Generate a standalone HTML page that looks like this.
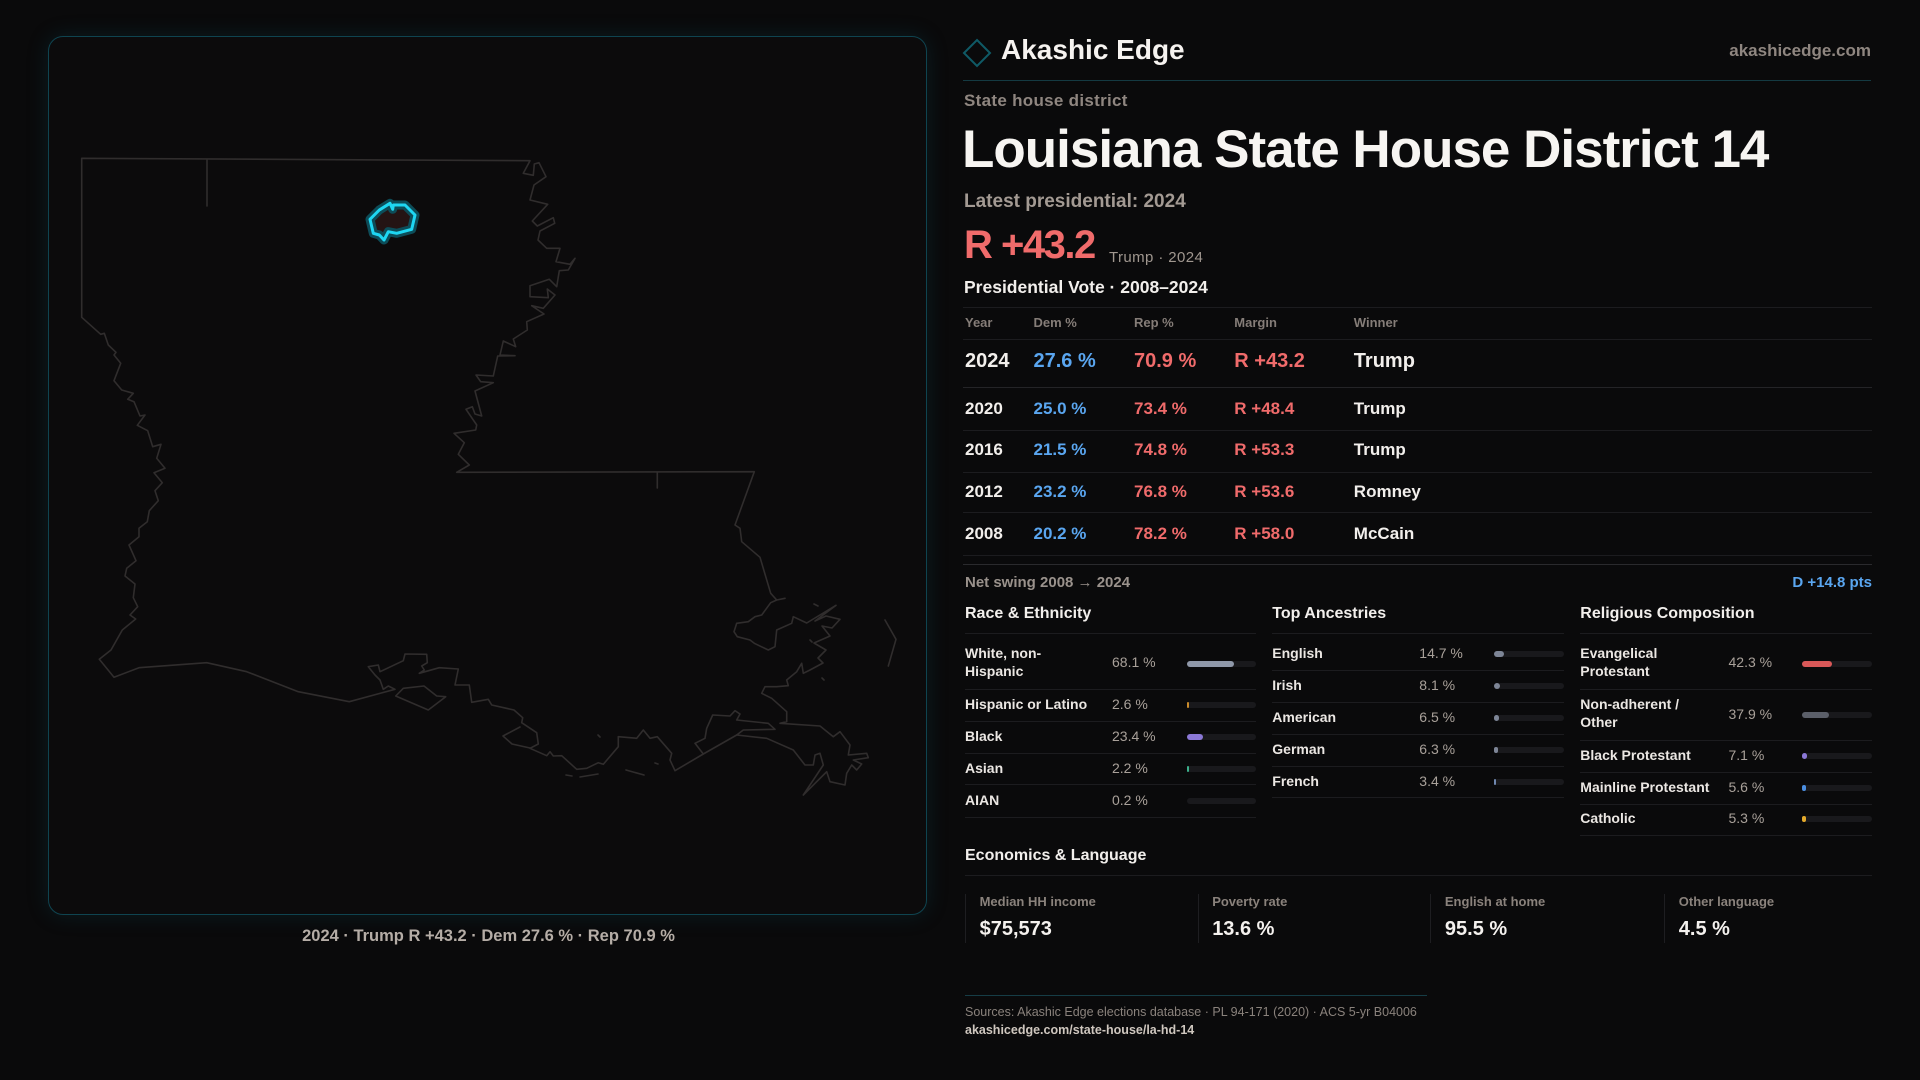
<!DOCTYPE html>
<html><head><meta charset="utf-8">
<style>
*{margin:0;padding:0;box-sizing:border-box}
html,body{width:1920px;height:1080px;background:#0a0a0b;overflow:hidden}
body{position:relative;font-family:"Liberation Sans",Arial,sans-serif;color:#f2efec}
.t{position:absolute;line-height:1;white-space:nowrap}
.b{font-weight:bold}
.g{color:#8f8680}
.bl{color:#5aa6f0}
.rd{color:#f06b6b}
.ln{position:absolute;height:1px;background:#1c1c1f}
.trk{position:absolute;height:6px;border-radius:3px;background:#19191c;width:70px}
.fl{position:absolute;left:0;top:0;height:6px;border-radius:3px}
.panel{position:absolute;left:48px;top:36px;width:879px;height:879px;border:1px solid #0f4450;border-radius:15px;background:#0c0b0c;box-shadow:0 0 22px rgba(14,90,110,0.22)}
.lab{font-size:14px;font-weight:bold;color:#ebe7e3}
.pct{font-size:14px;color:#a9a19a}
.sl{font-size:13px;color:#8a827c;font-weight:bold}
.sv{font-size:20px;font-weight:bold;color:#f4f1ee}
.sb{position:absolute;top:894px;width:1px;height:49px;background:#1e1e21}
</style></head><body>

<div class="panel"></div>

<svg width="1920" height="1080" style="position:absolute;left:0;top:0" xmlns="http://www.w3.org/2000/svg">
<g fill="none" stroke="#302d2d" stroke-width="1.6" stroke-linejoin="round" stroke-linecap="round">
<path d="M349.3,701.7 L298.3,691.7 L246.7,671.7 L206.7,662.7 L139,667.7 L114,677.3 L99.3,659.3 L111,650 L122.3,630 L135.7,619 L130,615 L137.7,606.7 L133.3,597.7 L135,584 L125,576 L126.7,568.3 L136,560.7 L129,545 L139,536.7 L139,528.3 L147.3,521.7 L149.3,510.7 L158.3,500.7 L155,490.7 L162.3,482.7 L154,472.7 L165,468.3 L156.7,458.3 L161,444.3 L152.7,446.7 L147.7,430.7 L137.3,425.3 L145,415 L140,416 L134,401.7 L127.7,399.3 L133.3,393.3 L121.7,390 L114,380.7 L120.7,363.3 L114,355 L116,352.3 L108.3,345 L104.3,333.3 L100.7,334.3 L81.7,317.3 L81.7,158.3 L530,160.7 L523.3,173.3 L533.3,175.3 L534.3,164 L539,162.7 L546,176.7 L534,185 L530,200 L547.7,204.3 L532.3,221 L537.3,226 L553.3,217.7 L554.7,223.3 L540,231 L538,240 L546.7,248.3 L560,248.3 L556,261.7 L570,264.3 L575,258.3 L568.3,270 L559.3,270.7 L556.7,286.7 L549.3,279.3 L530,285.7 L530,296.7 L548.3,297.7 L547.3,289 L555,295 L543.3,308.3 L531.7,305.7 L544,314 L526.7,321.7 L527.3,330 L513.3,339 L515.7,346.7 L503.3,341 L500,355 L515,355.7 L497.7,356 L493.3,376 L476,375 L480.7,381.7 L493.3,382.7 L475,391 L481.7,416 L475,414 L472.3,406.7 L466,409.3 L476.7,425 L475.7,430 L454,433.3 L464.3,442.7 L458.3,454.3 L469.3,465 L456.7,472.3 L754.3,471.7 L735,525 L740,528.3 L741.7,541.7 L760,557.3 L770.7,593.3 L776.7,600 L785,598.3 L776.7,600 L770.7,602.7 L761.7,615 L755,616.7 L748.3,621.7 L736.7,623.3 L734,631.7 L737.3,636.7 L750,640 L754.3,643.3 L768.3,650 L775,646.7 L776.7,630 L791.7,623.3 L793.3,616.7 L806.7,623 L836,605.3 L815,621 L826,616 L840,619.3 L832,628 L822,626 L830,636 L814,643 L826,650 L818,658 L823,663 L810,670 L803.3,673.3 L801.7,663.3 L796.7,671.7 L786.7,680 L788.3,685.7 L776.7,686.7 L765,686.7 L761.7,693.3 L771.7,698.3 L786.7,711.7 L786.7,721.7 L780,723.3 L820,726 L833.3,736.7 L840,731.7 L850,745 L848.3,755 L866.7,753.3 L868.3,757.7 L853.3,760 L861.7,764 L856.7,770 L851.7,765 L846.7,773.3 L845,785 L830,781.7 L826.7,771.7 L803.3,795 L823.3,765 L820,753.3 L815,755 L813.3,765 L805,765 L793.3,750 L766.7,738.3 L736.7,735 L703.3,754 L675,770.7 L670,760 L671.7,753.3 L657.3,736.7 L650,738.3 L643.3,730 L636.7,738.3 L618.3,736.7 L618.3,746.7 L603.3,764.3 L598.3,762.7 L586.7,768.3 L576.7,769.3 L561.7,755.7 L553.3,756 L550,751.7 L546.7,755.7 L530,748.3 L538.3,744 L536.7,732.7 L521.7,722.7 L522.7,717.7 L514,710 L491.7,705 L488.3,699.3 L471.7,702.3 L469.3,685 L455,685 L458.3,669 L439.3,667.7 L419.3,673.3 L424.3,670 L421.7,666 L427.3,662.7 L426.7,654.3 L405,654 L403.3,660.7 L380,671.7 L378.3,665 L368.3,666.7 L375,675 L380,680 L383.3,689.3 L388.3,686 L395,689.3 Z"/>
<path d="M395.7,696 L403.3,688.3 L424,686 L436.7,696 L445.7,696.7 L428.3,710 Z"/>
<path d="M520,727 L503,736 L512,744 L530,748"/>
<path d="M703.3,754 L695,743.3 L705,738.3 L706.7,728.3 L712.7,715 L730,716 L735,710.7 L740,714 L736.7,720 L768.3,723.3 L775,729.3 L743.3,730 L736.7,735"/>
<path d="M885,620 L896,639.3 L888.3,666"/>
<path d="M207,159.3 V206 M657.3,472 V488"/>
<path d="M566,775 L572,776 M580,777 L598,774 M626,770 L644,775 M655,763 L658,764 M598,735 L600,737"/>
<path d="M814,604 L818,606 M810,640 L812,642 M822,678 L824,680"/>
</g>
<path d="M370,219.3 L373.3,233.3 L379.3,235 L384,240 L388.3,231.7 L396.7,233.3 L411.7,229.3 L415,215 L405,205 L393.3,205 L392.7,209.3 L390,203.3 L379.3,210 Z" fill="#241414" stroke="#0d4c58" stroke-width="9" stroke-linejoin="round"/>
<path d="M370,219.3 L373.3,233.3 L379.3,235 L384,240 L388.3,231.7 L396.7,233.3 L411.7,229.3 L415,215 L405,205 L393.3,205 L392.7,209.3 L390,203.3 L379.3,210 Z" fill="none" stroke="#1ed6f2" stroke-width="3" stroke-linejoin="round"/>
<polygon points="977,40 990,53 977,66 964,53" fill="none" stroke="#0f5a66" stroke-width="2"/>
</svg>

<div class="t b" style="left:302px;width:373px;text-align:center;top:928px;font-size:16.5px;color:#b5ada6">2024 · Trump R +43.2 · Dem 27.6 % · Rep 70.9 %</div>

<!-- header -->
<div class="t b" style="left:1001px;top:36.3px;font-size:28px;color:#f6f3f0">Akashic Edge</div>
<div class="t b g" style="right:49px;top:42.3px;font-size:17px">akashicedge.com</div>
<div style="position:absolute;left:963px;top:80px;width:908px;height:1px;background:#143a42"></div>
<div class="t b g" style="left:964px;top:92.3px;font-size:17px;letter-spacing:0.3px">State house district</div>
<div class="t b" style="left:962px;top:123.1px;font-size:53px;letter-spacing:-1px;color:#f7f5f2">Louisiana State House District 14</div>
<div class="t b" style="left:964px;top:191.9px;font-size:19px;color:#a39a93">Latest presidential: 2024</div>
<div class="t b rd" style="left:964px;top:225.4px;font-size:40px;letter-spacing:-1.5px">R +43.2</div>
<div class="t" style="left:1109px;top:250.3px;font-size:15px;color:#a0978f;letter-spacing:0.4px">Trump · 2024</div>
<div class="t b" style="left:964px;top:278.5px;font-size:17.5px;color:#f2efec">Presidential Vote · 2008–2024</div>

<!-- table -->
<div class="ln" style="left:963px;width:909px;top:307px"></div>
<div class="t b" style="left:965px;top:316.3px;font-size:13px;color:#857d78">Year</div>
<div class="t b" style="left:1033.5px;top:316.3px;font-size:13px;color:#857d78">Dem %</div>
<div class="t b" style="left:1134px;top:316.3px;font-size:13px;color:#857d78">Rep %</div>
<div class="t b" style="left:1234.3px;top:316.3px;font-size:13px;color:#857d78">Margin</div>
<div class="t b" style="left:1353.8px;top:316.3px;font-size:13px;color:#857d78">Winner</div>
<div class="ln" style="left:963px;width:909px;top:338.5px"></div>

<div class="t b" style="left:965px;top:351.4px;font-size:20px">2024</div>
<div class="t b bl" style="left:1033.5px;top:351.4px;font-size:20px">27.6 %</div>
<div class="t b rd" style="left:1134px;top:351.4px;font-size:20px">70.9 %</div>
<div class="t b rd" style="left:1234.3px;top:351.4px;font-size:20px">R +43.2</div>
<div class="t b" style="left:1353.8px;top:351.4px;font-size:20px">Trump</div>
<div class="ln" style="left:963px;width:909px;top:387px;background:#242427"></div>

<div class="t b" style="left:965px;top:399.6px;font-size:17px">2020</div>
<div class="t b bl" style="left:1033.5px;top:399.6px;font-size:17px">25.0 %</div>
<div class="t b rd" style="left:1134px;top:399.6px;font-size:17px">73.4 %</div>
<div class="t b rd" style="left:1234.3px;top:399.6px;font-size:17px">R +48.4</div>
<div class="t b" style="left:1353.8px;top:399.6px;font-size:17px">Trump</div>
<div class="ln" style="left:963px;width:909px;top:430px"></div>

<div class="t b" style="left:965px;top:441.3px;font-size:17px">2016</div>
<div class="t b bl" style="left:1033.5px;top:441.3px;font-size:17px">21.5 %</div>
<div class="t b rd" style="left:1134px;top:441.3px;font-size:17px">74.8 %</div>
<div class="t b rd" style="left:1234.3px;top:441.3px;font-size:17px">R +53.3</div>
<div class="t b" style="left:1353.8px;top:441.3px;font-size:17px">Trump</div>
<div class="ln" style="left:963px;width:909px;top:471.5px"></div>

<div class="t b" style="left:965px;top:482.9px;font-size:17px">2012</div>
<div class="t b bl" style="left:1033.5px;top:482.9px;font-size:17px">23.2 %</div>
<div class="t b rd" style="left:1134px;top:482.9px;font-size:17px">76.8 %</div>
<div class="t b rd" style="left:1234.3px;top:482.9px;font-size:17px">R +53.6</div>
<div class="t b" style="left:1353.8px;top:482.9px;font-size:17px">Romney</div>
<div class="ln" style="left:963px;width:909px;top:512.3px"></div>

<div class="t b" style="left:965px;top:524.9px;font-size:17px">2008</div>
<div class="t b bl" style="left:1033.5px;top:524.9px;font-size:17px">20.2 %</div>
<div class="t b rd" style="left:1134px;top:524.9px;font-size:17px">78.2 %</div>
<div class="t b rd" style="left:1234.3px;top:524.9px;font-size:17px">R +58.0</div>
<div class="t b" style="left:1353.8px;top:524.9px;font-size:17px">McCain</div>
<div class="ln" style="left:963px;width:909px;top:555px"></div>
<div class="ln" style="left:963px;width:909px;top:564px;background:#2a2a2d"></div>

<div class="t b" style="left:965px;top:575px;font-size:15px;color:#9a928c">Net swing 2008 → 2024</div>
<div class="t b bl" style="right:48px;top:575px;font-size:15px">D +14.8 pts</div>

<!-- section headings -->
<div class="t b" style="left:965px;top:605.8px;font-size:16px">Race &amp; Ethnicity</div>
<div class="t b" style="left:1272.3px;top:605.8px;font-size:16px">Top Ancestries</div>
<div class="t b" style="left:1580.3px;top:605.8px;font-size:16px">Religious Composition</div>
<div class="ln" style="left:965px;width:291px;top:632.5px"></div>
<div class="ln" style="left:1272px;width:292px;top:632.5px"></div>
<div class="ln" style="left:1580px;width:292px;top:632.5px"></div>

<!-- race -->
<div class="t lab" style="left:965px;top:645.8px">White, non-</div>
<div class="t lab" style="left:965px;top:664.1px">Hispanic</div>
<div class="t pct" style="left:1112px;top:655.1px">68.1 %</div>
<div class="trk" style="left:1186.6px;top:660.7px;width:69px"><div class="fl" style="width:47px;background:#8f98a9"></div></div>
<div class="ln" style="left:965px;width:291px;top:689px"></div>

<div class="t lab" style="left:965px;top:697.4px">Hispanic or Latino</div>
<div class="t pct" style="left:1112px;top:697.4px">2.6 %</div>
<div class="trk" style="left:1186.6px;top:702px;width:69px"><div class="fl" style="width:2px;background:#c98b2b"></div></div>
<div class="ln" style="left:965px;width:291px;top:721px"></div>

<div class="t lab" style="left:965px;top:728.8px">Black</div>
<div class="t pct" style="left:1112px;top:728.8px">23.4 %</div>
<div class="trk" style="left:1186.6px;top:734px;width:69px"><div class="fl" style="width:16px;background:#8b78d6"></div></div>
<div class="ln" style="left:965px;width:291px;top:753px"></div>

<div class="t lab" style="left:965px;top:761.4px">Asian</div>
<div class="t pct" style="left:1112px;top:761.4px">2.2 %</div>
<div class="trk" style="left:1186.6px;top:766px;width:69px"><div class="fl" style="width:2px;background:#3caf8b"></div></div>
<div class="ln" style="left:965px;width:291px;top:784px"></div>

<div class="t lab" style="left:965px;top:793.1px">AIAN</div>
<div class="t pct" style="left:1112px;top:793.1px">0.2 %</div>
<div class="trk" style="left:1186.6px;top:797.7px;width:69px"></div>
<div class="ln" style="left:965px;width:291px;top:817px"></div>

<!-- ancestries -->
<div class="t lab" style="left:1272.3px;top:646.4px">English</div>
<div class="t pct" style="left:1419.3px;top:646.4px">14.7 %</div>
<div class="trk" style="left:1494px;top:651px"><div class="fl" style="width:10px;background:#7d8596"></div></div>
<div class="ln" style="left:1272px;width:292px;top:670px"></div>

<div class="t lab" style="left:1272.3px;top:678.1px">Irish</div>
<div class="t pct" style="left:1419.3px;top:678.1px">8.1 %</div>
<div class="trk" style="left:1494px;top:683px"><div class="fl" style="width:6px;background:#7d8596"></div></div>
<div class="ln" style="left:1272px;width:292px;top:702px"></div>

<div class="t lab" style="left:1272.3px;top:710.4px">American</div>
<div class="t pct" style="left:1419.3px;top:710.4px">6.5 %</div>
<div class="trk" style="left:1494px;top:715px"><div class="fl" style="width:4.5px;background:#7d8596"></div></div>
<div class="ln" style="left:1272px;width:292px;top:734px"></div>

<div class="t lab" style="left:1272.3px;top:742.4px">German</div>
<div class="t pct" style="left:1419.3px;top:742.4px">6.3 %</div>
<div class="trk" style="left:1494px;top:747px"><div class="fl" style="width:4.4px;background:#7d8596"></div></div>
<div class="ln" style="left:1272px;width:292px;top:766px"></div>

<div class="t lab" style="left:1272.3px;top:774.1px">French</div>
<div class="t pct" style="left:1419.3px;top:774.1px">3.4 %</div>
<div class="trk" style="left:1494px;top:779px"><div class="fl" style="width:2.4px;background:#7088b0"></div></div>
<div class="ln" style="left:1272px;width:292px;top:797px"></div>

<!-- religion -->
<div class="t lab" style="left:1580.3px;top:645.8px">Evangelical</div>
<div class="t lab" style="left:1580.3px;top:664.1px">Protestant</div>
<div class="t pct" style="left:1728.5px;top:655.1px">42.3 %</div>
<div class="trk" style="left:1802px;top:661px"><div class="fl" style="width:29.6px;background:#d95858"></div></div>
<div class="ln" style="left:1580px;width:292px;top:689px"></div>

<div class="t lab" style="left:1580.3px;top:697.4px">Non-adherent /</div>
<div class="t lab" style="left:1580.3px;top:715.4px">Other</div>
<div class="t pct" style="left:1728.5px;top:707.1px">37.9 %</div>
<div class="trk" style="left:1802px;top:712px"><div class="fl" style="width:26.5px;background:#5b5f69"></div></div>
<div class="ln" style="left:1580px;width:292px;top:740px"></div>

<div class="t lab" style="left:1580.3px;top:748.1px">Black Protestant</div>
<div class="t pct" style="left:1728.5px;top:748.1px">7.1 %</div>
<div class="trk" style="left:1802px;top:752.7px"><div class="fl" style="width:5px;background:#8b78d6"></div></div>
<div class="ln" style="left:1580px;width:292px;top:771.5px"></div>

<div class="t lab" style="left:1580.3px;top:780.4px">Mainline Protestant</div>
<div class="t pct" style="left:1728.5px;top:780.4px">5.6 %</div>
<div class="trk" style="left:1802px;top:784.7px"><div class="fl" style="width:4px;background:#4b8ee0"></div></div>
<div class="ln" style="left:1580px;width:292px;top:804px"></div>

<div class="t lab" style="left:1580.3px;top:811.4px">Catholic</div>
<div class="t pct" style="left:1728.5px;top:811.4px">5.3 %</div>
<div class="trk" style="left:1802px;top:816px"><div class="fl" style="width:3.7px;background:#e3a92b"></div></div>
<div class="ln" style="left:1580px;width:292px;top:835px"></div>

<!-- economics -->
<div class="t b" style="left:965px;top:848.2px;font-size:16px">Economics &amp; Language</div>
<div class="ln" style="left:965px;width:907px;top:875px"></div>

<div class="sb" style="left:965px"></div>
<div class="sb" style="left:1197.6px"></div>
<div class="sb" style="left:1430.3px"></div>
<div class="sb" style="left:1664.2px"></div>
<div class="t sl" style="left:979.6px;top:895px">Median HH income</div>
<div class="t sl" style="left:1212.2px;top:895px">Poverty rate</div>
<div class="t sl" style="left:1444.9px;top:895px">English at home</div>
<div class="t sl" style="left:1678.8px;top:895px">Other language</div>
<div class="t sv" style="left:979.6px;top:919.1px">$75,573</div>
<div class="t sv" style="left:1212.2px;top:919.1px">13.6 %</div>
<div class="t sv" style="left:1444.9px;top:919.1px">95.5 %</div>
<div class="t sv" style="left:1678.8px;top:919.1px">4.5 %</div>

<!-- footer -->
<div style="position:absolute;left:965px;top:995px;width:462px;height:1px;background:#163d46"></div>
<div class="t" style="left:965px;top:1006.1px;font-size:12.5px;color:#8a827c">Sources: Akashic Edge elections database · PL 94-171 (2020) · ACS 5-yr B04006</div>
<div class="t b" style="left:965px;top:1024.4px;font-size:12.5px;color:#cfc7bf">akashicedge.com/state-house/la-hd-14</div>

</body></html>
